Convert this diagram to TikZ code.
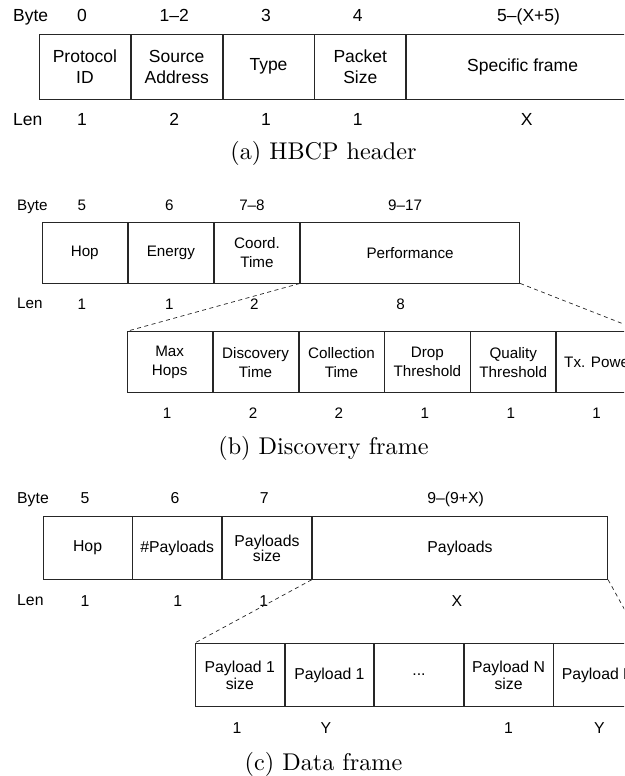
\documentclass[tikz,border=0pt]{standalone}
\usepackage{fontspec}
\setsansfont{Liberation Sans}
\usetikzlibrary{positioning}

\tikzset{
  cell/.style={draw=black!85, line width=0.8pt, inner sep=0pt, align=center},
  hdrcell/.style={cell, minimum width=91pt, minimum height=64.7pt, font=\sffamily\fontsize{17.5}{20.7}\selectfont},
  disccell/.style={cell, minimum width=85.3pt, minimum height=60.7pt, font=\sffamily\fontsize{15.2}{19}\selectfont},
  perfcell/.style={cell, minimum width=85.1pt, minimum height=61pt, font=\sffamily\fontsize{15.2}{19}\selectfont},
  datacell/.style={cell, minimum width=88.9pt, minimum height=62.6pt, font=\sffamily\fontsize{15.8}{17.3}\selectfont},
  paycell/.style={cell, minimum width=88.8pt, minimum height=63.4pt, font=\sffamily\fontsize{15.8}{17.3}\selectfont},
  numa/.style={inner sep=0pt, anchor=base, font=\sffamily\fontsize{17.5}{20}\selectfont},
  numb/.style={inner sep=0pt, anchor=base, font=\sffamily\fontsize{15.2}{18}\selectfont},
  numc/.style={inner sep=0pt, anchor=base, font=\sffamily\fontsize{15.8}{18}\selectfont},
  zoomline/.style={draw=black!85, line width=0.7pt, dash pattern=on 4pt off 3.5pt},
  subcap/.style={inner sep=0pt, anchor=base, scale=2.42, transform shape, font=\rmfamily\fontsize{10}{12}\selectfont}
}

\begin{document}
\begin{tikzpicture}[x=1pt, y=-1pt]
  \path[use as bounding box, clip] (0,0) rectangle (624,776);

  % (a) HBCP header
  \node[hdrcell, anchor=west] (proto) at (39,66.65) {Protocol\\ID};
  \node[hdrcell, right=0pt of proto] (src) {Source\\Address};
  \node[hdrcell, right=0pt of src] (type) {Type};
  \node[hdrcell, right=0pt of type] (psize) {Packet\\Size};
  \node[hdrcell, minimum width=232pt, right=0pt of psize] (spec) {Specific frame};

  \node[numa, anchor=base west] (bytea) at (13,22) {Byte};
  \node[numa] at ([xshift=-3pt, yshift=12.3pt]proto.north) {0};
  \node[numa] at ([xshift=-2.5pt, yshift=12.3pt]src.north) {1–2};
  \node[numa] at ([xshift=-2.5pt, yshift=12.3pt]type.north) {3};
  \node[numa] at ([xshift=-2.5pt, yshift=12.3pt]psize.north) {4};
  \node[numa] at ([xshift=6pt, yshift=12.3pt]spec.north) {5–(X+5)};

  \node[numa, anchor=base west] (lena) at (13,125.3) {Len};
  \node[numa] at ([xshift=-3pt, yshift=-26.3pt]proto.south) {1};
  \node[numa] at ([xshift=-2.5pt, yshift=-26.3pt]src.south) {2};
  \node[numa] at ([xshift=-2.5pt, yshift=-26.3pt]type.south) {1};
  \node[numa] at ([xshift=-2.5pt, yshift=-26.3pt]psize.south) {1};
  \node[numa] at ([xshift=4pt, yshift=-26.3pt]spec.south) {X};

  \node[subcap] (capa) at (323.5,159.5) {(a) HBCP header};

  % (b) Discovery frame
  \node[disccell, anchor=west] (hopb) at (41.7,252.65) {Hop};
  \node[disccell, right=0pt of hopb] (energy) {Energy};
  \node[disccell, right=0pt of energy] (coord) {Coord.\\Time};
  \node[disccell, minimum width=219.3pt, right=0pt of coord] (perf) {Performance};

  \node[numb, anchor=base west] (byteb) at (17,210.5) {Byte};
  \node[numb] at ([xshift=-2.8pt, yshift=11.8pt]hopb.north) {5};
  \node[numb] at ([xshift=-1.5pt, yshift=11.8pt]energy.north) {6};
  \node[numb] at ([xshift=-5pt, yshift=11.8pt]coord.north) {7–8};
  \node[numb] at ([xshift=-5pt, yshift=11.8pt]perf.north) {9–17};

  \node[numb, anchor=base west] (lenb) at (17,308.8) {Len};
  \node[numb] at ([xshift=-2.8pt, yshift=-25.8pt]hopb.south) {1};
  \node[numb] at ([xshift=-1.5pt, yshift=-25.8pt]energy.south) {1};
  \node[numb] at ([xshift=-2.7pt, yshift=-25.8pt]coord.south) {2};
  \node[numb] at ([xshift=-9.5pt, yshift=-25.8pt]perf.south) {8};

  \node[perfcell, anchor=west] (maxhops) at (126.7,362.2) {Max\\Hops};
  \node[perfcell, right=0pt of maxhops] (disctime) {Discovery\\Time};
  \node[perfcell, right=0pt of disctime] (colltime) {Collection\\Time};
  \node[perfcell, right=0pt of colltime] (dropth) {Drop\\Threshold};
  \node[perfcell, right=0pt of dropth] (qualth) {Quality\\Threshold};
  \node[perfcell, right=0pt of qualth] (txpow) {Tx. Power};

  \node[numb] at ([xshift=-2.5pt, yshift=-25.5pt]maxhops.south) {1};
  \node[numb] at ([xshift=-2.5pt, yshift=-25.5pt]disctime.south) {2};
  \node[numb] at ([xshift=-2.5pt, yshift=-25.5pt]colltime.south) {2};
  \node[numb] at ([xshift=-2.5pt, yshift=-25.5pt]dropth.south) {1};
  \node[numb] at ([xshift=-2.5pt, yshift=-25.5pt]qualth.south) {1};
  \node[numb] at ([xshift=-2.5pt, yshift=-25.5pt]txpow.south) {1};

  \draw[zoomline] (coord.south east) -- (maxhops.north west);
  \draw[zoomline] (perf.south east) -- (txpow.north east);

  \node[subcap] (capb) at (323.5,454) {(b) Discovery frame};

  % (c) Data frame
  \node[datacell, anchor=west] (hopc) at (42.7,548) {Hop};
  \node[datacell, right=0pt of hopc] (npay) {\#Payloads};
  \node[datacell, font=\sffamily\fontsize{15.8}{15}\selectfont, right=0pt of npay] (paysize) {Payloads\\size};
  \node[datacell, minimum width=295.5pt, right=0pt of paysize] (payloads) {Payloads};

  \node[numc, anchor=base west] (bytec) at (17,503.7) {Byte};
  \node[numc] at ([xshift=-2.5pt, yshift=13pt]hopc.north) {5};
  \node[numc] at ([xshift=-2.2pt, yshift=13pt]npay.north) {6};
  \node[numc] at ([xshift=-2.7pt, yshift=13pt]paysize.north) {7};
  \node[numc] at ([xshift=-4.3pt, yshift=13pt]payloads.north) {9–(9+X)};

  \node[numc, anchor=base west] (lenc) at (17,605.7) {Len};
  \node[numc] at ([xshift=-2.5pt, yshift=-26.4pt]hopc.south) {1};
  \node[numc] at ([xshift=0.5pt, yshift=-26.4pt]npay.south) {1};
  \node[numc] at ([xshift=-3.3pt, yshift=-26.4pt]paysize.south) {1};
  \node[numc] at ([xshift=-3pt, yshift=-26.4pt]payloads.south) {X};

  \node[paycell, anchor=west] (pay1size) at (195,675) {Payload 1\\size};
  \node[paycell, right=0pt of pay1size] (pay1) {Payload 1};
  \node[paycell, right=0pt of pay1] (paydots) {...};
  \node[paycell, right=0pt of paydots] (paynsize) {Payload N\\size};
  \node[paycell, right=0pt of paynsize] (payn) {Payload N};

  \node[numc] at ([xshift=-2.8pt, yshift=-26.3pt]pay1size.south) {1};
  \node[numc] at ([xshift=-3.4pt, yshift=-26.3pt]pay1.south) {Y};
  \node[numc] at ([xshift=0pt, yshift=-26.3pt]paynsize.south) {1};
  \node[numc] at ([xshift=1.3pt, yshift=-26.3pt]payn.south) {Y};

  \draw[zoomline] (paysize.south east) -- (pay1size.north west);
  \draw[zoomline] (payloads.south east) -- (payn.north east);

  \node[subcap] (capc) at (323.5,770) {(c) Data frame};
\end{tikzpicture}
\end{document}
